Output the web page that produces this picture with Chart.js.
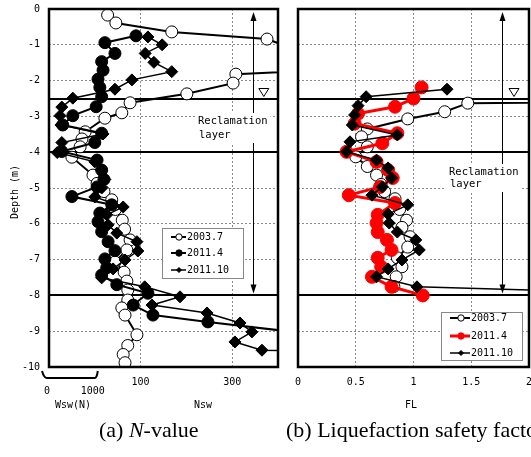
<!DOCTYPE html>
<html>
<head>
<meta charset="utf-8">
<script src="https://cdn.jsdelivr.net/npm/chart.js@4.4.1/dist/chart.umd.min.js"></script>
<style>
  html, body { margin: 0; padding: 0; background: #fff; }
  body { width: 531px; height: 457px; position: relative; overflow: hidden; }
  canvas { position: absolute; top: 0; }
  #nChart { left: 0; }
  #flChart { left: 285px; }
  .cap { position: absolute; top: 417px; font: 22px "Liberation Serif", "Times New Roman", serif; white-space: nowrap; color: #000; }
</style>
</head>
<body>
<canvas id="nChart" width="290" height="457"></canvas>
<canvas id="flChart" width="262" height="457"></canvas>
<div class="cap" style="left:99px">(a) <i>N</i>-value</div>
<div class="cap" style="left:286px">(b) Liquefaction safety factor</div>

<script>
const MONO = '"DejaVu Sans Mono", monospace'
Chart.defaults.font.family = MONO
Chart.defaults.color = '#000'

const surveys = ['2003.7', '2011.4', '2011.10']
const layerDepths = [-2.5, -4, -8]
const depthTicks = [0, -1, -2, -3, -4, -5, -6, -7, -8, -9, -10]
const nTicks = [100, 300]
const flTicks = [0, 0.5, 1, 1.5, 2]

/* (a) SWS results. x is Nsw; below 0 it is read on the Wsw scale (0..1000 N -> -100..0) */
const depth03a = [-0.17, -0.39, -0.64, -0.84, -1.25, -1.6, -1.82, -2.07, -2.37, -2.62, -2.9, -3.05, -3.43, -3.63, -3.85, -4.14, -4.64, -4.87, -5.1, -5.33, -5.6, -5.9, -6.15, -6.45, -6.73, -7.07, -7.35, -7.6, -7.85, -8.13, -8.35, -8.55, -9.1, -9.4, -9.65, -9.88]
const nsw03 = [28, 46, 168, 376, 463, 675, 308, 302, 201, 77, 59, 22, -21, -28, -32, -50, -4, 5, 20, 37, 45, 60, 65, 77, 70, 44, 64, 70, 72, 72, 59, 66, 92, 72, 62, 66]

const depth11a = [-0.75, -0.94, -1.24, -1.47, -1.71, -1.96, -2.19, -2.45, -2.73, -2.98, -3.24, -3.47, -3.73, -3.98, -4.22, -4.5, -4.76, -4.97, -5.24, -5.47, -5.7, -5.94, -6.22, -6.5, -6.75, -6.98, -7.23, -7.43, -7.7, -7.94, -8.27, -8.55, -8.74, -9.0]
const nsw11 = [90, 22, 44, 15, 18, 7, 11, 15, 3, -48, -70, 15, 0, -72, 5, 15, 20, 5, -50, 37, 11, 7, 15, 29, 44, 22, 26, 15, 48, 116, 84, 127, 247, 420]

const depth10a = [-0.78, -1.0, -1.24, -1.49, -1.75, -1.98, -2.24, -2.49, -2.74, -2.98, -3.24, -3.49, -3.73, -4.01, -4.27, -4.5, -4.76, -5.0, -5.25, -5.53, -5.75, -6.03, -6.26, -6.5, -6.76, -7.01, -7.26, -7.51, -7.76, -8.04, -8.27, -8.49, -8.77, -9.02, -9.3, -9.53, -9.6]
const nsw10 = [116, 147, 110, 129, 168, 81, 44, -48, -72, -76, -74, 18, -72, -82, 0, 15, 22, 15, 0, 62, 26, 29, 48, 92, 94, 66, 40, 15, 109, 186, 125, 245, 317, 343, 306, 365, 650]

/* (b) liquefaction safety factor FL */
const depth03b = [-2.55, -2.63, -2.87, -3.07, -3.35, -3.57, -3.85, -4.13, -4.4, -4.64, -4.9, -5.1, -5.3, -5.6, -5.9, -6.1, -6.36, -6.65, -6.95, -7.2, -7.48, -7.75]
const fl03 = [5.0, 1.47, 1.27, 0.95, 0.6, 0.55, 0.6, 0.5, 0.6, 0.68, 0.72, 0.75, 0.84, 0.88, 0.94, 0.9, 0.97, 0.95, 0.86, 0.9, 0.85, 0.83]

const depth11b = [-2.19, -2.5, -2.73, -2.92, -3.2, -3.47, -3.75, -3.99, -4.27, -4.5, -4.72, -4.97, -5.2, -5.42, -5.75, -5.98, -6.23, -6.45, -6.73, -6.95, -7.2, -7.48, -7.76, -8.0]
const fl11 = [1.07, 1.0, 0.84, 0.52, 0.49, 0.86, 0.73, 0.42, 0.68, 0.78, 0.82, 0.71, 0.44, 0.84, 0.69, 0.68, 0.69, 0.77, 0.81, 0.69, 0.72, 0.64, 0.81, 1.08]

const depth10b = [-2.24, -2.45, -2.7, -2.96, -3.24, -3.52, -3.71, -3.99, -4.22, -4.44, -4.72, -4.97, -5.2, -5.47, -5.73, -5.98, -6.23, -6.45, -6.73, -7.01, -7.26, -7.48, -7.76, -8.0]
const fl10 = [1.29, 0.59, 0.52, 0.49, 0.47, 0.86, 0.45, 0.42, 0.68, 0.78, 0.81, 0.73, 0.64, 0.95, 0.78, 0.79, 0.86, 1.02, 1.05, 0.9, 0.78, 0.68, 1.03, 3.6]


/* marker styles per survey, shared by datasets and legends */
const stylesA = {
    '2003.7': { line: '#000', lw: 2, shape: 'circle', fill: '#fff', edge: '#000', r: 6 },
    '2011.4': { line: '#000', lw: 2, shape: 'circle', fill: '#000', edge: '#000', r: 6 },
    '2011.10': { line: '#000', lw: 1.5, shape: 'rectRot', fill: '#000', edge: '#000', r: 6 }
}
const stylesB = {
    '2003.7': { line: '#000', lw: 2, shape: 'circle', fill: '#fff', edge: '#000', r: 6 },
    '2011.4': { line: '#ff0000', lw: 3, shape: 'circle', fill: '#ff0000', edge: '#ff0000', r: 6.5 },
    '2011.10': { line: '#000', lw: 1.5, shape: 'rectRot', fill: '#000', edge: '#000', r: 6 }
}

function pts(depths, vals) {
    return depths.map((d, i) => ({ x: vals[i], y: d }))
}

function dataset(label, st, data) {
    return {
        label: label,
        data: data,
        showLine: true,
        borderColor: st.line,
        borderWidth: st.lw,
        pointStyle: st.shape,
        pointRadius: st.r,
        pointBackgroundColor: st.fill,
        pointBorderColor: st.edge,
        pointBorderWidth: 1
    }
}

function line(ctx, x1, y1, x2, y2) {
    ctx.beginPath()
    ctx.moveTo(x1, y1)
    ctx.lineTo(x2, y2)
    ctx.stroke()
}

function mark(ctx, shape, x, y, r) {
    ctx.beginPath()
    if (shape === 'rectRot') {
        ctx.moveTo(x, y - r); ctx.lineTo(x + r, y); ctx.lineTo(x, y + r); ctx.lineTo(x - r, y); ctx.closePath()
    } else {
        ctx.arc(x, y, r, 0, Math.PI * 2)
    }
    ctx.fill()
    ctx.stroke()
}


/* layer lines, arrow, labels, legend, frame */
const decor = {
    id: 'decor',
    beforeDatasetsDraw(chart, args, o) {
        const { ctx, chartArea: a, scales: { x, y } } = chart
        ctx.save()
        ctx.strokeStyle = '#000'
        ctx.lineWidth = 1.8
        layerDepths.forEach(d => {
            const py = Math.round(y.getPixelForValue(d))
            line(ctx, a.left, py, a.right, py)
        })

        const ax = Math.round(x.getPixelForValue(o.arrowX)) + 0.5
        const top = a.top + 3
        const bot = y.getPixelForValue(-8) - 2
        ctx.lineWidth = 1
        line(ctx, ax, top + 6, ax, bot - 6)
        ctx.fillStyle = '#000'
        ctx.beginPath(); ctx.moveTo(ax, top); ctx.lineTo(ax - 3, top + 9); ctx.lineTo(ax + 3, top + 9); ctx.fill()
        ctx.beginPath(); ctx.moveTo(ax, bot); ctx.lineTo(ax - 3, bot - 9); ctx.lineTo(ax + 3, bot - 9); ctx.fill()
        ctx.restore()
    },
    afterDatasetsDraw(chart, args, o) {
        const { ctx, scales: { x, y } } = chart
        ctx.save()

        // water table
        const wx = x.getPixelForValue(o.markX)
        const wy = y.getPixelForValue(-2.5) - 6
        ctx.strokeStyle = '#000'
        ctx.lineWidth = 1
        ctx.beginPath()
        ctx.moveTo(wx - 5, wy - 4); ctx.lineTo(wx + 5, wy - 4); ctx.lineTo(wx, wy + 4); ctx.closePath()
        ctx.stroke()

        // reclamation layer label
        ctx.font = '10.5px ' + MONO
        const [tx, ty] = o.textAt
        const w = ctx.measureText('Reclamation').width
        ctx.fillStyle = '#fff'
        ctx.fillRect(tx - 3, ty - 8, w + 6, o.lineGap + 16)
        ctx.fillStyle = '#000'
        ctx.textBaseline = 'middle'
        ctx.textAlign = 'left'
        ctx.fillText('Reclamation', tx, ty)
        ctx.fillText('layer', tx + 1, ty + o.lineGap)

        // legend
        const L = o.legend
        ctx.fillStyle = '#fff'
        ctx.fillRect(L.x, L.y, L.w, L.h)
        ctx.strokeStyle = '#888'
        ctx.strokeRect(L.x + 0.5, L.y + 0.5, L.w, L.h)
        ctx.font = '10px ' + MONO
        surveys.forEach((s, i) => {
            const st = o.styles[s]
            const ry = L.rows[i]
            ctx.strokeStyle = st.line
            ctx.lineWidth = st.lw
            line(ctx, L.line[0], ry, L.line[1], ry)
            ctx.fillStyle = st.fill
            ctx.strokeStyle = st.edge
            ctx.lineWidth = 1
            mark(ctx, st.shape, L.mark, ry, st.shape === 'rectRot' ? 2.5 : 3.2)
            ctx.fillStyle = '#000'
            ctx.fillText(s, L.text, ry)
        })
        ctx.restore()
    },
    afterDraw(chart, args, o) {
        const { ctx, chartArea: a, scales: { x } } = chart
        ctx.save()
        ctx.strokeStyle = '#000'
        ctx.lineWidth = 2.5
        ctx.strokeRect(a.left, a.top, a.right - a.left, a.bottom - a.top)

        ctx.fillStyle = '#000'
        ctx.font = '10px ' + MONO
        ctx.textAlign = 'center'
        ctx.textBaseline = 'middle'
        o.under.forEach(u => ctx.fillText(u.t, u.x, u.y))

        if (o.wsw) {
            // Wsw bracket 0..1000 N
            const w0 = x.getPixelForValue(-100)
            const w1 = x.getPixelForValue(0)
            ctx.lineWidth = 2
            ctx.beginPath()
            ctx.moveTo(w0 - 7, 371)
            ctx.quadraticCurveTo(w0 - 5, 378, w0 - 2, 378)
            ctx.lineTo(w1, 378)
            ctx.quadraticCurveTo(w1 + 2, 378, w1 + 3, 371)
            ctx.stroke()
            ctx.fillText('0', w0 - 2, 391)
            ctx.fillText('1000', w1 - 2, 391)

            ctx.translate(15, 192)
            ctx.rotate(-Math.PI / 2)
            ctx.fillText('Depth (m)', 0, 0)
        }
        ctx.restore()
    }
}

const gridStyle = { color: '#8a8a8a', lineWidth: 1, drawTicks: false }
const borderStyle = { display: false, dash: [2, 2] }

function depthAxis(showTicks, width) {
    return {
        min: -10, max: 0,
        afterBuildTicks: s => { s.ticks = depthTicks.map(v => ({ value: v })) },
        afterFit: s => {
            s.width = width
            s.paddingTop = 0
            s.paddingBottom = 0
        },
        grid: gridStyle,
        border: borderStyle,
        ticks: { display: showTicks, padding: 9, font: { size: 10 }, callback: v => String(v) }
    }
}


/* (a) N-value */

new Chart(document.getElementById('nChart'), {
    type: 'scatter',
    data: {
        datasets: [
            dataset(surveys[2], stylesA[surveys[2]], pts(depth10a, nsw10)),
            dataset(surveys[1], stylesA[surveys[1]], pts(depth11a, nsw11)),
            dataset(surveys[0], stylesA[surveys[0]], pts(depth03a, nsw03))
        ]
    },
    options: {
        responsive: false,
        animation: false,
        events: [],
        layout: { padding: { top: 9, right: 12, left: 0, bottom: 0 } },
        plugins: {
            legend: { display: false },
            tooltip: { enabled: false },
            decor: {
                arrowX: 345,
                markX: 369,
                textAt: [198, 121],
                lineGap: 14,
                styles: stylesA,
                legend: { x: 162, y: 228, w: 81, h: 50, rows: [237, 253, 270], line: [171, 186], mark: 179, text: 187 },
                under: [{ t: 'Wsw(N)', x: 73, y: 405 }, { t: 'Nsw', x: 203, y: 405 }],
                wsw: true
            }
        },
        scales: {
            x: {
                type: 'linear',
                min: -100, max: 400,
                afterBuildTicks: s => { s.ticks = nTicks.map(v => ({ value: v })) },
                afterFit: s => { s.height = 90 },
                grid: gridStyle,
                border: borderStyle,
                ticks: { padding: 9, font: { size: 10 }, maxRotation: 0, callback: v => String(v) }
            },
            y: depthAxis(true, 49)
        }
    },
    plugins: [decor]
})


/* (b) FL */

new Chart(document.getElementById('flChart'), {
    type: 'scatter',
    data: {
        datasets: [
            dataset(surveys[2], stylesB[surveys[2]], pts(depth10b, fl10)),
            dataset(surveys[1], stylesB[surveys[1]], pts(depth11b, fl11)),
            dataset(surveys[0], stylesB[surveys[0]], pts(depth03b, fl03))
        ]
    },
    options: {
        responsive: false,
        animation: false,
        events: [],
        layout: { padding: { top: 9, right: 18, left: 0, bottom: 0 } },
        plugins: {
            legend: { display: false },
            tooltip: { enabled: false },
            decor: {
                arrowX: 1.77,
                markX: 1.87,
                textAt: [164, 172],
                lineGap: 12,
                styles: stylesB,
                legend: { x: 156, y: 312, w: 81, h: 48, rows: [318, 336, 353], line: [165, 185], mark: 176, text: 186 },
                under: [{ t: 'FL', x: 126, y: 405 }],
                wsw: false
            }
        },
        scales: {
            x: {
                type: 'linear',
                min: 0, max: 2,
                afterBuildTicks: s => { s.ticks = flTicks.map(v => ({ value: v })) },
                afterFit: s => { s.height = 90 },
                grid: gridStyle,
                border: borderStyle,
                ticks: { padding: 9, font: { size: 10 }, maxRotation: 0, callback: v => String(v) }
            },
            y: depthAxis(false, 13)
        }
    },
    plugins: [decor]
})
</script>
</body>
</html>
